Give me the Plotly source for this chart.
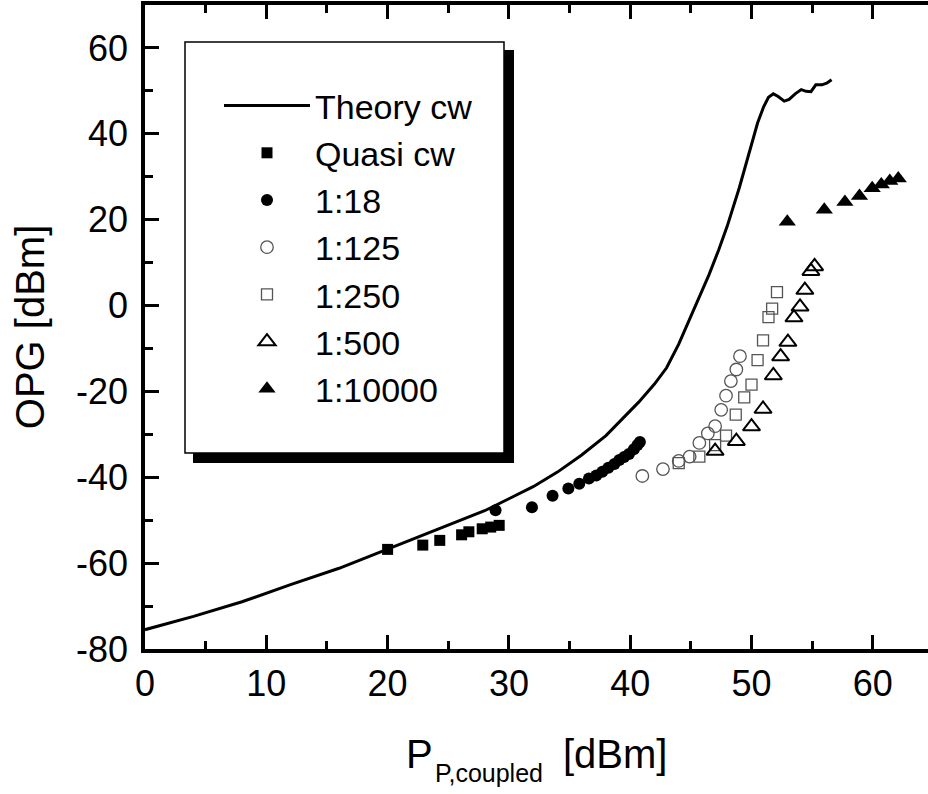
import plotly.graph_objects as go

# ---- data ----
theory_x = [0, 4, 8, 12, 16, 20, 24, 28, 30, 32, 34, 36, 38, 39.5, 40.7, 42, 43, 44, 45,
            45.7, 46.5, 47.3, 48, 49, 50, 50.5, 51, 51.4, 51.8, 52.2, 52.7, 53.1, 53.6,
            54.1, 54.5, 54.9, 55.3, 55.8, 56.2, 56.6]
theory_y = [-75.5, -72.4, -69.0, -65.0, -61.2, -56.7, -52.3, -47.8, -45.0, -42.2, -38.8,
            -34.8, -30.3, -26.0, -22.5, -18.3, -14.5, -9.0, -2.5, 2.0, 7.2, 13.0, 18.5,
            27.5, 37.5, 42.5, 46.3, 48.5, 49.3, 48.7, 47.6, 48.0, 49.3, 50.3, 49.9, 49.8,
            51.4, 51.4, 51.8, 52.6]

quasi_x = [20.0, 22.9, 24.3, 26.1, 26.7, 27.8, 28.5, 29.2]
quasi_y = [-56.8, -55.8, -54.7, -53.4, -52.7, -52.0, -51.6, -51.2]

r18_x = [28.9, 31.9, 33.6, 34.9, 35.8, 36.6, 37.2, 37.7, 38.2, 38.7, 39.1, 39.5, 39.9,
         40.3, 40.6, 40.8]
r18_y = [-47.7, -47.0, -44.3, -42.6, -41.5, -40.3, -39.6, -38.7, -37.8, -36.9, -36.0,
         -35.3, -34.6, -33.5, -32.5, -31.8]

r125_x = [41.0, 42.7, 44.0, 44.9, 45.7, 46.4, 47.0, 47.5, 47.9, 48.3, 48.75, 49.05]
r125_y = [-39.7, -38.1, -36.2, -35.2, -32.0, -29.8, -28.1, -24.3, -21.0, -17.6, -14.9, -11.8]

r250_x = [44.0, 45.7, 47.0, 47.9, 48.7, 49.4, 50.0, 50.5, 50.95, 51.4, 51.7, 52.1]
r250_y = [-36.7, -35.2, -32.5, -30.3, -25.4, -21.4, -18.4, -12.7, -8.1, -2.7, -0.7, 3.1]

r500_x = [47.0, 48.75, 50.0, 50.95, 51.8, 52.4, 53.0, 53.5, 54.0, 54.4, 54.9, 55.2]
r500_y = [-33.9, -31.6, -28.2, -24.1, -16.3, -11.9, -8.5, -2.8, -0.3, 3.6, 8.0, 9.1]

r10000_x = [52.95, 56.0, 57.7, 58.9, 59.95, 60.7, 61.4, 62.1]
r10000_y = [19.5, 22.3, 24.1, 25.5, 27.3, 28.2, 29.0, 29.6]

x_ticks = [0, 10, 20, 30, 40, 50, 60]
y_ticks = [-80, -60, -40, -20, 0, 20, 40, 60]

x_title_main, x_title_sub, x_title_unit = "P", "P,coupled", "[dBm]"
y_title = "OPG [dBm]"

FONT = "Liberation Sans, Arial, Helvetica, sans-serif"

W, H = 928, 794
ML, MR, MT, MB = 145, 0, 5, 145
PW, PH = W - ML - MR, H - MT - MB


def px(xp):
    return (xp - ML) / PW


def py(yp):
    return (H - MB - yp) / PH


fig = go.Figure()
fig.add_trace(go.Scatter(x=theory_x, y=theory_y, mode="lines", name="Theory cw",
                         line=dict(color="black", width=3)))
fig.add_trace(go.Scatter(x=quasi_x, y=quasi_y, mode="markers", name="Quasi cw",
                         marker=dict(symbol="square", size=11, color="black")))
fig.add_trace(go.Scatter(x=r18_x, y=r18_y, mode="markers", name="1:18",
                         marker=dict(symbol="circle", size=12, color="black")))
fig.add_trace(go.Scatter(x=r125_x, y=r125_y, mode="markers", name="1:125",
                         marker=dict(symbol="circle-open", size=12.5, color="#555",
                                     line=dict(width=1.3, color="#555"))))
fig.add_trace(go.Scatter(x=r250_x, y=r250_y, mode="markers", name="1:250",
                         marker=dict(symbol="square-open", size=11, color="#555",
                                     line=dict(width=1.3, color="#555"))))
fig.add_trace(go.Scatter(x=r500_x, y=r500_y, mode="markers", name="1:500",
                         marker=dict(symbol="triangle-up-open", size=15, color="black",
                                     line=dict(width=2, color="black"))))
fig.add_trace(go.Scatter(x=r10000_x, y=r10000_y, mode="markers", name="1:10000",
                         marker=dict(symbol="triangle-up", size=15, color="black")))

# legend frame with drop shadow
fig.add_shape(type="rect", xref="paper", yref="paper",
              x0=px(193), x1=px(514), y0=py(463), y1=py(50),
              fillcolor="black", line=dict(width=0), layer="above")
fig.add_shape(type="rect", xref="paper", yref="paper",
              x0=px(185), x1=px(504), y0=py(453), y1=py(42),
              fillcolor="white", line=dict(width=1.5, color="black"), layer="above")

# x-axis title built from pieces so the subscript sits low like the original
title_font = dict(family=FONT, size=40, color="black")
fig.add_annotation(text=x_title_main, xref="paper", yref="paper", x=px(404), y=py(730),
                   xanchor="left", yanchor="top", showarrow=False, font=title_font)
fig.add_annotation(text=x_title_sub, xref="paper", yref="paper", x=px(433), y=py(757),
                   xanchor="left", yanchor="top", showarrow=False,
                   font=dict(family=FONT, size=25, color="black"))
fig.add_annotation(text=x_title_unit, xref="paper", yref="paper", x=px(561), y=py(730),
                   xanchor="left", yanchor="top", showarrow=False, font=title_font)

axis_common = dict(showgrid=False, zeroline=False, ticks="inside", tickwidth=3,
                   tickcolor="black", tickfont=dict(family=FONT, size=36, color="black"))

fig.update_layout(
    width=W, height=H,
    margin=dict(l=ML, r=MR, t=MT, b=MB, pad=0),
    paper_bgcolor="white", plot_bgcolor="white",
    font=dict(family=FONT, color="black"),
    showlegend=True,
    legend=dict(x=px(219), y=py(77), xanchor="left", yanchor="top",
                bgcolor="rgba(0,0,0,0)", borderwidth=0, itemwidth=86,
                font=dict(family=FONT, size=34, color="black"), tracegroupgap=0),
    xaxis=dict(range=[0, 64.55], tickvals=x_ticks, ticktext=[str(v) for v in x_ticks],
               showline=True, linewidth=3.5, linecolor="black", mirror="ticks",
               ticklen=14, minor=dict(dtick=5, ticks="inside", ticklen=8, tickwidth=3,
                                     tickcolor="black"),
               **axis_common),
    yaxis=dict(range=[-80, 70], tickvals=y_ticks, ticktext=[str(v) for v in y_ticks],
               showline=True, linewidth=3.5, linecolor="black", mirror=False,
               ticklen=14, ticklabelstandoff=6,
               minor=dict(dtick=10, ticks="inside", ticklen=8, tickwidth=3,
                          tickcolor="black"),
               title=dict(text=y_title, font=title_font, standoff=20),
               **axis_common),
    yaxis2=dict(range=[-80, 70], overlaying="y", side="right", tickvals=y_ticks,
                showticklabels=False, showline=False, showgrid=False, zeroline=False,
                ticks="inside", ticklen=10, tickwidth=3, tickcolor="black",
                minor=dict(dtick=10, ticks="inside", ticklen=4, tickwidth=3,
                           tickcolor="black")),
)

fig.write_html("out.html")
